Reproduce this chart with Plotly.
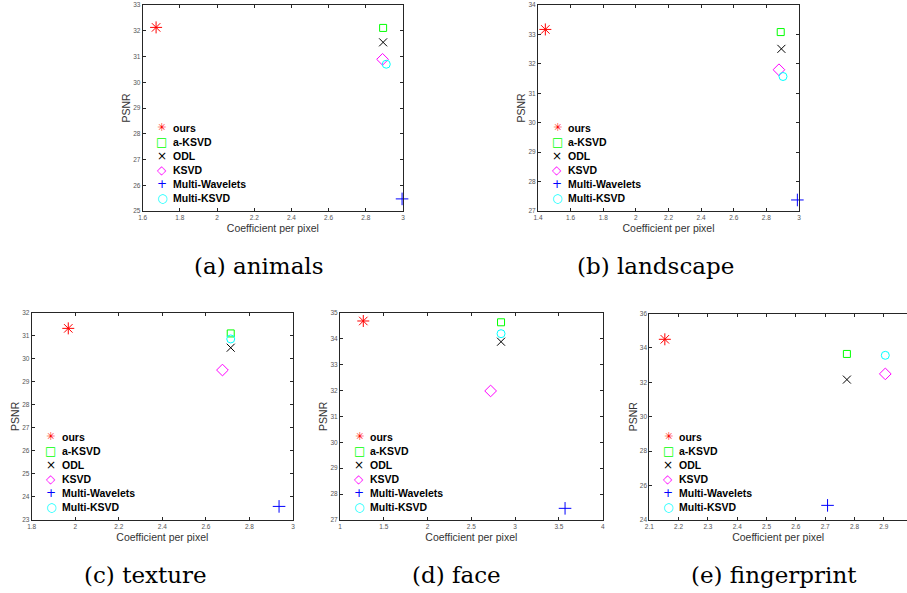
import plotly.graph_objects as go

W, H = 907, 593

methods = ["ours", "a-KSVD", "ODL", "KSVD", "Multi-Wavelets", "Multi-KSVD"]
colors = ["#ff0000", "#00ff00", "#000000", "#ff00ff", "#0000ff", "#00ffff"]
symbols = ["asterisk-open", "square-open", "x-thin-open", "diamond-open", "cross-thin-open", "circle-open"]
legend_glyphs = ["\u2733", "\u25a1", "\u00d7", "\u25c7", "+", "\u25cb"]

animals_x = [1.672, 2.893, 2.893, 2.890, 2.995, 2.910]
animals_y = [32.13, 32.11, 31.55, 30.89, 25.47, 30.70]
landscape_x = [1.445, 2.888, 2.892, 2.877, 2.990, 2.902]
landscape_y = [33.17, 33.08, 32.51, 31.80, 27.375, 31.57]
texture_x = [1.968, 2.714, 2.714, 2.676, 2.936, 2.714]
texture_y = [31.32, 31.10, 30.48, 29.51, 23.59, 30.86]
face_x = [1.266, 2.839, 2.839, 2.720, 3.570, 2.839]
face_y = [34.68, 34.63, 33.88, 31.98, 27.45, 34.19]
fingerprint_x = [2.153, 2.774, 2.774, 2.905, 2.708, 2.905]
fingerprint_y = [34.50, 33.65, 32.16, 32.49, 24.85, 33.57]

captions = ["(a) animals", "(b) landscape", "(c) texture", "(d) face", "(e) fingerprint"]

animals_xticks = [1.6, 1.8, 2, 2.2, 2.4, 2.6, 2.8, 3]
animals_yticks = [25, 26, 27, 28, 29, 30, 31, 32, 33]
landscape_xticks = [1.4, 1.6, 1.8, 2, 2.2, 2.4, 2.6, 2.8, 3]
landscape_yticks = [27, 28, 29, 30, 31, 32, 33, 34]
texture_xticks = [1.8, 2, 2.2, 2.4, 2.6, 2.8, 3]
texture_yticks = [23, 24, 25, 26, 27, 28, 29, 30, 31, 32]
face_xticks = [1, 1.5, 2, 2.5, 3, 3.5, 4]
face_yticks = [27, 28, 29, 30, 31, 32, 33, 34, 35]
fingerprint_xticks = [2.1, 2.2, 2.3, 2.4, 2.5, 2.6, 2.7, 2.8, 2.9, 3]
fingerprint_yticks = [24, 26, 28, 30, 32, 34, 36]

panels = [
    dict(x=animals_x, y=animals_y, xt=animals_xticks, yt=animals_yticks,
         xr=[1.6, 3], yr=[25, 33], px=(142.7, 403), py=(5, 211), cap=(259, 266)),
    dict(x=landscape_x, y=landscape_y, xt=landscape_xticks, yt=landscape_yticks,
         xr=[1.4, 3], yr=[27, 34], px=(538, 799), py=(5, 211), cap=(655, 266)),
    dict(x=texture_x, y=texture_y, xt=texture_xticks, yt=texture_yticks,
         xr=[1.8, 3], yr=[23, 32], px=(31.7, 293), py=(312.7, 520), cap=(145, 575)),
    dict(x=face_x, y=face_y, xt=face_xticks, yt=face_yticks,
         xr=[1, 4], yr=[27, 35], px=(340, 602.7), py=(312.7, 520), cap=(456, 575)),
    dict(x=fingerprint_x, y=fingerprint_y, xt=fingerprint_xticks, yt=fingerprint_yticks,
         xr=[2.1, 2.979], yr=[24, 36], px=(649.3, 907), py=(313.5, 520), cap=(774, 575)),
]

sizes = [10, 7, 8, 9, 9, 8]
glyph_sizes = [11, 12, 12, 12, 12, 12]

fig = go.Figure()
annotations = []
layout = {}
axis_line = "#262626"
tick_font = dict(family="Liberation Sans, Arial, sans-serif", size=6.5, color="#555555")
title_font = dict(family="Liberation Sans, Arial, sans-serif", size=10.5, color="#333333")

for i, p in enumerate(panels, start=1):
    xa = "x" if i == 1 else f"x{i}"
    ya = "y" if i == 1 else f"y{i}"
    for k, m in enumerate(methods):
        fig.add_trace(go.Scatter(
            x=[p["x"][k]], y=[p["y"][k]], mode="markers", name=m,
            marker=dict(symbol=symbols[k], color=colors[k], size=sizes[k],
                        line=dict(color=colors[k], width=1)),
            showlegend=False, cliponaxis=False, xaxis=xa, yaxis=ya))
    last = (i == 5)
    layout[f"xaxis{'' if i == 1 else i}"] = dict(
        domain=[p["px"][0] / W, p["px"][1] / W], range=p["xr"], anchor=ya,
        tickvals=p["xt"], ticks="inside", ticklen=3, tickwidth=0.8, tickcolor=axis_line,
        showline=True, linecolor=axis_line, linewidth=1, mirror="ticks",
        showgrid=False, zeroline=False, tickfont=tick_font, automargin=False,
        title=dict(text="Coefficient per pixel", font=title_font, standoff=4))
    layout[f"yaxis{'' if i == 1 else i}"] = dict(
        domain=[1 - p["py"][1] / H, 1 - p["py"][0] / H], range=p["yr"], anchor=xa,
        tickvals=p["yt"], ticks="inside", ticklen=3, tickwidth=0.8, tickcolor=axis_line,
        showline=True, linecolor=axis_line, linewidth=1,
        mirror=False if last else "ticks", automargin=False,
        showgrid=False, zeroline=False, tickfont=tick_font,
        title=dict(text="PSNR", font=title_font, standoff=0))
    xd = f"{xa} domain"
    yd = f"{ya} domain"
    for k, m in enumerate(methods):
        yoff = 83.3 - 14.05 * k
        annotations.append(dict(
            xref=xd, yref=yd, x=0, y=0, xshift=19, yshift=yoff,
            xanchor="center", yanchor="middle", showarrow=False, borderpad=0,
            text=legend_glyphs[k],
            font=dict(family="DejaVu Sans, sans-serif", size=glyph_sizes[k], color=colors[k])))
        annotations.append(dict(
            xref=xd, yref=yd, x=0, y=0, xshift=29, yshift=yoff,
            xanchor="left", yanchor="middle", showarrow=False, borderpad=0,
            text=f"<b>{m}</b>",
            font=dict(family="Liberation Sans, Arial, sans-serif", size=10.5, color="#000000")))
    annotations.append(dict(
        xref="paper", yref="paper", x=p["cap"][0] / W, y=1 - p["cap"][1] / H,
        xanchor="center", yanchor="middle", showarrow=False, text=captions[i - 1],
        font=dict(family="DejaVu Serif, serif", size=23, color="#000000")))

fig.update_layout(
    width=W, height=H, margin=dict(l=0, r=0, t=0, b=0, autoexpand=False),
    paper_bgcolor="white", plot_bgcolor="white",
    annotations=annotations, showlegend=False, **layout)

fig.write_html(
    "out.html",
    config={"displayModeBar": False},
    post_script="document.body.style.margin='0';document.body.style.padding='0';"
                "document.body.style.overflow='hidden';")
